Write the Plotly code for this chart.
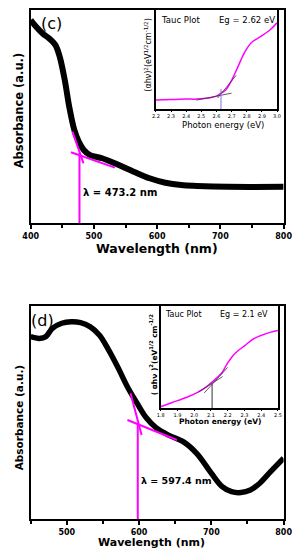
import plotly.graph_objects as go

# ---------------- data ----------------
# panel (c) main absorbance spectrum
wl_c = [400, 409, 419, 429, 439, 446, 454, 461, 469, 476, 484, 494, 513, 533, 563, 588, 613, 638, 663, 712, 800]
abs_c = [0.953, 0.92, 0.89, 0.867, 0.836, 0.78, 0.67, 0.546, 0.437, 0.382, 0.343, 0.319, 0.304, 0.280,
         0.241, 0.210, 0.189, 0.178, 0.174, 0.170, 0.170]
tan_c_steep_x = [466.1, 483.6]
tan_c_steep_y = [0.429, 0.280]
tan_c_flat_x = [463.7, 533.3]
tan_c_flat_y = [0.332, 0.260]
edge_c_x = [477.2, 477.2]
edge_c_y = [0.0, 0.329]

# panel (c) inset Tauc plot
ev_c = [2.2, 2.3, 2.4, 2.47, 2.55, 2.6, 2.63, 2.66, 2.70, 2.74, 2.785, 2.83, 2.89, 2.955, 3.0]
tauc_c = [0.09, 0.095, 0.10, 0.10, 0.11, 0.13, 0.16, 0.19, 0.29, 0.42, 0.57, 0.67, 0.73, 0.80, 0.87]
tauc_c_t1_x = [2.467, 2.70]
tauc_c_t1_y = [0.09, 0.16]
tauc_c_t2_x = [2.607, 2.73]
tauc_c_t2_y = [0.11, 0.34]
eg_c_x = [2.63, 2.63]
eg_c_y = [0.0, 0.2]

# panel (d) main absorbance spectrum
wl_d = [450, 462, 471, 480, 493, 506, 519, 532, 545, 558, 571, 584, 597, 610, 623, 640, 662, 680, 700,
        715, 728, 741, 754, 767, 780, 800]
abs_d = [0.856, 0.848, 0.856, 0.895, 0.919, 0.926, 0.922, 0.903, 0.864, 0.793, 0.71, 0.62, 0.545, 0.475,
         0.43, 0.395, 0.361, 0.307, 0.215, 0.152, 0.128, 0.124, 0.136, 0.168, 0.215, 0.285]
tan_d_steep_x = [588.2, 603.5]
tan_d_steep_y = [0.59, 0.394]
tan_d_flat_x = [583.9, 652.5]
tan_d_flat_y = [0.465, 0.371]
edge_d_x = [598.2, 598.2]
edge_d_y = [0.0, 0.449]

# panel (d) inset Tauc plot
ev_d = [1.8, 1.865, 1.96, 2.026, 2.073, 2.13, 2.167, 2.195, 2.224, 2.26, 2.30, 2.355, 2.43, 2.5]
tauc_d = [0.015, 0.054, 0.11, 0.16, 0.21, 0.29, 0.35, 0.43, 0.50, 0.56, 0.61, 0.68, 0.73, 0.76]
tauc_d_t1_x = [2.026, 2.17]
tauc_d_t1_y = [0.16, 0.31]
tauc_d_t2_x = [2.06, 2.20]
tauc_d_t2_y = [0.15, 0.40]
eg_d_x = [2.107, 2.107]
eg_d_y = [0.0, 0.24]

ticks_c = [400, 500, 600, 700, 800]
ticks_d = [500, 600, 700, 800]
ticks_ic = [2.2, 2.3, 2.4, 2.5, 2.6, 2.7, 2.8, 2.9, 3.0]
ticks_id = [1.8, 1.9, 2.0, 2.1, 2.2, 2.3, 2.4, 2.5]

# ---------------- figure ----------------
W, H = 303, 550
FONT = "DejaVu Sans"
MAG = "#ff00ff"


def px(x):
    return x / W


def py(y):
    return 1 - y / H


fig = go.Figure()


def line(x, y, xa, ya, color, width, shape="linear"):
    fig.add_trace(go.Scatter(x=x, y=y, xaxis=xa, yaxis=ya, mode="lines",
                             line=dict(color=color, width=width, shape=shape),
                             hoverinfo="skip", showlegend=False))


# (c) main
line(wl_c, abs_c, "x", "y", "black", 6, "spline")
line(tan_c_steep_x, tan_c_steep_y, "x", "y", MAG, 2)
line(tan_c_flat_x, tan_c_flat_y, "x", "y", MAG, 2)
line(edge_c_x, edge_c_y, "x", "y", MAG, 2)
# (c) inset
line(ev_c, tauc_c, "x2", "y2", MAG, 1.5, "spline")
line(tauc_c_t1_x, tauc_c_t1_y, "x2", "y2", "#333333", 0.8)
line(tauc_c_t2_x, tauc_c_t2_y, "x2", "y2", "#333333", 0.8)
line(eg_c_x, eg_c_y, "x2", "y2", "#7777dd", 1)
# (d) main
line(wl_d, abs_d, "x3", "y3", "black", 5.5, "spline")
line(tan_d_steep_x, tan_d_steep_y, "x3", "y3", MAG, 2)
line(tan_d_flat_x, tan_d_flat_y, "x3", "y3", MAG, 2)
line(edge_d_x, edge_d_y, "x3", "y3", MAG, 2)
# (d) inset
line(ev_d, tauc_d, "x4", "y4", MAG, 1.5, "spline")
line(tauc_d_t1_x, tauc_d_t1_y, "x4", "y4", "#333333", 0.8)
line(tauc_d_t2_x, tauc_d_t2_y, "x4", "y4", "#333333", 0.8)
line(eg_d_x, eg_d_y, "x4", "y4", "#333333", 1)

main_x = dict(showline=True, linecolor="black", linewidth=2, mirror=True, showgrid=False, zeroline=False,
              ticks="outside", ticklen=4, tickwidth=1.5, tickcolor="black",
              minor=dict(dtick=50, ticks="outside", ticklen=3, tickwidth=1.5, tickcolor="black"),
              tickfont=dict(family=FONT, size=8, color="black", weight="bold"))
main_y = dict(showline=True, linecolor="black", linewidth=2, mirror=True, showgrid=False, zeroline=False,
              showticklabels=False, ticks="", range=[0, 1])
ins_x = dict(showline=True, linecolor="black", linewidth=1.5, mirror=True, showgrid=False, zeroline=False,
             ticks="outside", ticklen=1, tickwidth=1, tickcolor="black",
             tickfont=dict(family=FONT, size=5, color="black"))
ins_y = dict(showline=True, linecolor="black", linewidth=1.5, mirror=True, showgrid=False, zeroline=False,
             showticklabels=False, ticks="", range=[0, 1])

fig.update_layout(
    width=W, height=H, margin=dict(l=0, r=0, t=0, b=0),
    paper_bgcolor="white", plot_bgcolor="white", showlegend=False,
    xaxis=dict(main_x, domain=[px(24), px(292)], range=[400, 800], tickvals=ticks_c, anchor="y"),
    yaxis=dict(main_y, domain=[py(223), py(10)], anchor="x"),
    xaxis2=dict(ins_x, domain=[px(156.7), px(285)], range=[2.2, 3.0], tickvals=ticks_ic,
                ticktext=[f"{v:.1f}" for v in ticks_ic], anchor="y2"),
    yaxis2=dict(ins_y, domain=[py(109), py(10)], anchor="x2"),
    xaxis3=dict(main_x, domain=[px(24), px(292)], range=[450, 800], tickvals=ticks_d, anchor="y3"),
    yaxis3=dict(main_y, domain=[py(519), py(306)], anchor="x3"),
    xaxis4=dict(ins_x, domain=[px(161.7), px(286)], range=[1.8, 2.5], tickvals=ticks_id,
                ticktext=[f"{v:.1f}" for v in ticks_id], anchor="y4"),
    yaxis4=dict(ins_y, domain=[py(408.3), py(306)], anchor="x4"),
)


def ann(text, x, y, size, bold=False, angle=0, xanchor="center"):
    fig.add_annotation(text=text, x=px(x), y=py(y), xref="paper", yref="paper", showarrow=False,
                       textangle=angle, xanchor=xanchor, yanchor="middle",
                       font=dict(family=FONT, size=size, color="black", weight="bold" if bold else "normal"))


# panel (c) texts
ann("(c)", 46, 23, 16)
ann("Wavelength (nm)", 158, 248, 12.5, bold=True)
ann("Absorbance (a.u.)", 12, 110, 11.5, bold=True, angle=-90)
ann("λ = 473.2 nm", 119, 192, 10, bold=True)
ann("Tauc Plot", 160, 20, 8.5, xanchor="left")
ann("Eg = 2.62 eV", 285, 20, 8.5, xanchor="right")
ann("Photon energy (eV)", 228, 125, 8.5)
ann("(αhν)<sup>2</sup>(eV<sup>1/2</sup>cm<sup>-1/2</sup>)", 148, 55, 8, angle=-90)

# panel (d) texts
ann("(d)", 37, 320, 16)
ann("Wavelength (nm)", 152.5, 542, 11, bold=True)
ann("Absorbance (a.u.)", 12, 417, 10.5, bold=True, angle=-90)
ann("λ = 597.4 nm", 178, 480, 9.5, bold=True)
ann("Tauc Plot", 164, 314, 8, xanchor="left")
ann("Eg = 2.1 eV", 278, 314, 8, xanchor="right")
ann("Photon energy (eV)", 225, 421, 7.5, bold=True)
ann("( αhν )<sup>2</sup>(eV<sup>1/2</sup> cm<sup>-1/2</sup>", 154, 354, 7.5, bold=True, angle=-90)

fig.write_html("out.html", config={"displayModeBar": False},
               post_script="document.body.style.margin='0';document.body.style.padding='0';"
                           "document.body.style.overflow='hidden';")
